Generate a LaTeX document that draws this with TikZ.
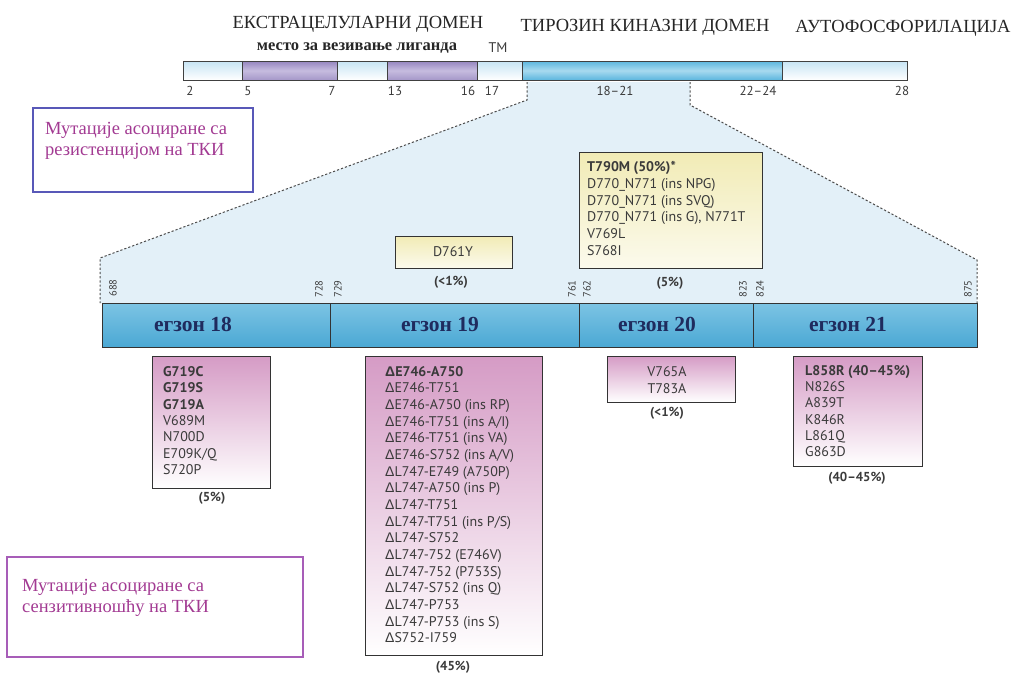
\documentclass[tikz,border=0pt]{standalone}
\usepackage{fontspec}
\setmainfont{Liberation Serif}
\setsansfont{PT Sans}
\newfontfamily\dlt{Liberation Sans}
\newcommand\Dl{{\dlt Δ}}
\definecolor{lblue}{HTML}{C6E4F4}
\definecolor{mblue}{HTML}{5CB6DE}
\definecolor{hblue}{HTML}{A8DAEF}
\definecolor{purp}{HTML}{9585BF}
\definecolor{purpl}{HTML}{C6BCDF}
\definecolor{pinkt}{HTML}{D59BC5}
\definecolor{yelt}{HTML}{F1EBB5}
\definecolor{navy}{HTML}{1F2B5E}
\definecolor{magtxt}{HTML}{A23A92}
\definecolor{txt}{HTML}{3A3A3A}
\definecolor{trap}{HTML}{E3F0F8}
\definecolor{leg1}{HTML}{5858B8}
\definecolor{leg2}{HTML}{A75DB8}
\definecolor{exTop}{HTML}{7CC4E4}
\definecolor{exMid}{HTML}{C4E6F4}
\definecolor{exBot}{HTML}{4BA8D4}
\begin{document}
\begin{tikzpicture}[x=1pt,y=-1pt,
  segline/.style={draw=black!75, line width=1pt},
  lightseg/.style={segline, top color=lblue, bottom color=white},
  purpseg/.style={segline, top color=purp, bottom color=purp!85, middle color=purpl},
  blueseg/.style={segline, top color=mblue, bottom color=mblue, middle color=hblue},
  exseg/.style={draw=black!80, line width=1pt, top color=exTop, middle color=exMid, bottom color=exBot},
  dashline/.style={draw=black!70, line width=1pt, dash pattern=on 2.2pt off 2pt},
  pinkbox/.style={draw=black!80, line width=1pt, top color=pinkt, bottom color=white},
  yelbox/.style={draw=black!80, line width=1pt, top color=yelt, bottom color=yelt!25},
  boxtext/.style={inner sep=0pt, text=txt, align=left, font=\sffamily\fontsize{14}{16.5}\selectfont},
  pct/.style={inner sep=0pt, text=txt, font=\sffamily\bfseries\fontsize{13}{14}\selectfont},
  num/.style={inner sep=0pt, text=txt, font=\sffamily\fontsize{13}{14}\selectfont},
  rnum/.style={inner sep=0pt, text=txt, rotate=90, font=\sffamily\fontsize{10.5}{12}\selectfont},
  head/.style={inner sep=0pt, text=black!85, font=\fontsize{18.5}{20}\selectfont},
  exlab/.style={inner sep=0pt, text=navy, font=\bfseries\fontsize{21.5}{24}\selectfont},
  legtext/.style={inner sep=0pt, text=magtxt, align=left, font=\fontsize{18.5}{21}\selectfont},
]
\useasboundingbox (0,0) rectangle (1013,675);

% zoom trapezoid
\coordinate (tl0) at (527,82);
\coordinate (tl1) at (527,100);
\coordinate (tl2) at (100,258);
\coordinate (tl3) at (100,303);
\coordinate (tr0) at (690,82);
\coordinate (tr1) at (690,105);
\coordinate (tr2) at (977,260);
\coordinate (tr3) at (977,303);
\fill[trap] (tl0)--(tl1)--(tl2)--(tl3)--(tr3)--(tr2)--(tr1)--(tr0)--cycle;
\draw[dashline] (tl0)--(tl1)--(tl2)--(tl3);
\draw[dashline] (tr0)--(tr1)--(tr2)--(tr3);

% top bar
\path[lightseg] (183,61) rectangle (242,80);
\path[purpseg] (242,61) rectangle (337,80);
\path[lightseg] (337,61) rectangle (387,80);
\path[purpseg] (387,61) rectangle (477,80);
\path[lightseg] (477,61) rectangle (522,80);
\path[blueseg] (522,61) rectangle (782,80);
\path[lightseg] (782,61) rectangle (907,80);

% headings
\node[head] (hExtra) at (358,24) {ЕКСТРАЦЕЛУЛАРНИ ДОМЕН};
\node[head] (hKin) at (645,27) {ТИРОЗИН КИНАЗНИ ДОМЕН};
\node[head] (hAuto) at (903,28) {АУТОФОСФОРИЛАЦИЈА};
\node[inner sep=0pt, text=black!85, font=\bfseries\fontsize{16.5}{18}\selectfont] (hLig) at (357,48) {место за везивање лиганда};
\node[num, font=\sffamily\fontsize{14}{15}\selectfont] (hTM) at (498,48) {ТМ};

% top numbers
\node[num] (n2) at (190,91) {2};
\node[num] (n5) at (248,91) {5};
\node[num] (n7) at (332,91) {7};
\node[num] (n13) at (395,91) {13};
\node[num] (n16) at (468,91) {16};
\node[num] (n17) at (492,91) {17};
\node[num] (n1821) at (615,91) {18--21};
\node[num] (n2224) at (758,91) {22--24};
\node[num] (n28) at (902,91) {28};

% legend boxes
\draw[leg1, line width=1.4pt] (33,108) rectangle (253,192);
\node[legtext, anchor=north west] (leg1t) at (45,122) {Мутације асоциране са\\резистенцијом на ТКИ};
\draw[leg2, line width=1.4pt] (7,557) rectangle (303,657);
\node[legtext, anchor=north west] (leg2t) at (22,579) {Мутације асоциране са\\сензитивношћу на ТКИ};

% yellow boxes
\path[yelbox] (395,236) rectangle (512,268);
\node[boxtext] (yD761) at (453,252) {D761Y};
\node[pct] (pY1) at (451,282) {(<1\%)};
\path[yelbox] (579,152) rectangle (762,268);
\node[boxtext, anchor=north west, font=\sffamily\fontsize{14}{16.8}\selectfont] (yT790) at (587,161) {{\bfseries T790M (50\%)*}\\D770\_N771 (ins NPG)\\D770\_N771 (ins SVQ)\\D770\_N771 (ins G), N771T\\V769L\\S768I};
\node[pct] (pY2) at (670,283) {(5\%)};

% exon numbers
\node[rnum] (e688) at (113,288) {688};
\node[rnum] (e728) at (319,289) {728};
\node[rnum] (e729) at (338,289) {729};
\node[rnum] (e761) at (572,289) {761};
\node[rnum] (e762) at (587,289) {762};
\node[rnum] (e823) at (743,289) {823};
\node[rnum] (e824) at (760,289) {824};
\node[rnum] (e875) at (968,289) {875};

% exon bar
\path[exseg] (102,303) rectangle (330,347);
\path[exseg] (330,303) rectangle (579,347);
\path[exseg] (579,303) rectangle (753,347);
\path[exseg] (753,303) rectangle (977,347);
\node[exlab] (x18) at (193,324) {егзон 18};
\node[exlab] (x19) at (440,324) {егзон 19};
\node[exlab] (x20) at (657,324) {егзон 20};
\node[exlab] (x21) at (848,324) {егзон 21};

% pink boxes
\path[pinkbox] (152,356) rectangle (270,488);
\node[boxtext, anchor=north west, font=\sffamily\fontsize{14}{16.4}\selectfont] (p18) at (163,366) {{\bfseries G719C}\\{\bfseries G719S}\\{\bfseries G719A}\\V689M\\N700D\\E709K/Q\\S720P};
\node[pct] (pp18) at (212,498) {(5\%)};

\path[pinkbox] (365,356) rectangle (542,655);
\node[boxtext, anchor=north west, font=\sffamily\fontsize{14}{16.67}\selectfont] (p19) at (385,366) {{\bfseries{\dlt Δ}E746-A750}\\\Dl E746-T751\\\Dl E746-A750 (ins RP)\\\Dl E746-T751 (ins A/I)\\\Dl E746-T751 (ins VA)\\\Dl E746-S752 (ins A/V)\\\Dl L747-E749 (A750P)\\\Dl L747-A750 (ins P)\\\Dl L747-T751\\\Dl L747-T751 (ins P/S)\\\Dl L747-S752\\\Dl L747-752 (E746V)\\\Dl L747-752 (P753S)\\\Dl L747-S752 (ins Q)\\\Dl L747-P753\\\Dl L747-P753 (ins S)\\\Dl S752-I759};
\node[pct] (pp19) at (453,667) {(45\%)};

\path[pinkbox] (607,356) rectangle (735,402);
\node[boxtext, align=center, font=\sffamily\fontsize{14}{16.3}\selectfont] (p20) at (667,380) {V765A\\T783A};
\node[pct] (pp20) at (667,413) {(<1\%)};

\path[pinkbox] (793,356) rectangle (922,466);
\node[boxtext, anchor=north west, font=\sffamily\fontsize{14}{16.3}\selectfont] (p21) at (805,365) {{\bfseries L858R (40--45\%)}\\N826S\\A839T\\K846R\\L861Q\\G863D};
\node[pct] (pp21) at (857,478) {(40--45\%)};
\end{tikzpicture}
\end{document}
